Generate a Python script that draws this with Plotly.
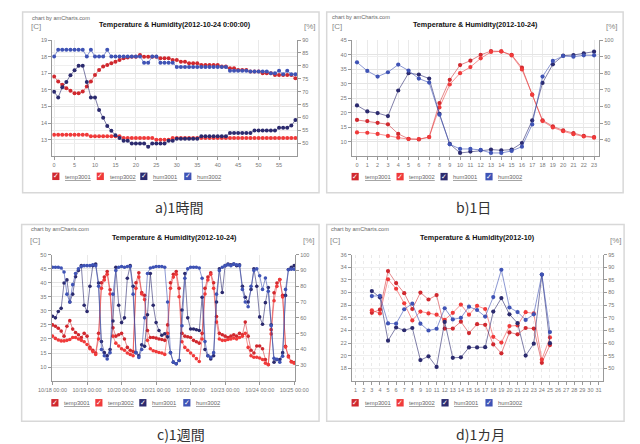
import plotly.graph_objects as go
import pandas as pd

W, H = 640, 444

SERIES = ["temp3001", "temp3002", "hum3001", "hum3002"]
COLORS = ["#d0282e", "#f03a3a", "#2b2a6e", "#3f53b5"]
LINE_COLORS = ["rgba(208,40,46,0.55)", "rgba(240,58,58,0.55)",
               "rgba(43,42,110,0.6)", "rgba(63,83,181,0.6)"]

# ---------------- a) 1 hour (2012-10-24 0:00 - 0:59) ----------------
a_minutes = list(range(60))
a_temp3001 = [16.8, 16.5, 16.3, 16.1, 15.95, 15.8, 15.8, 15.9, 16.2, 16.5,
              16.9, 17.2, 17.4, 17.5, 17.6, 17.7, 17.8, 17.9, 17.95, 18.0,
              18.0, 18.1, 18.0, 18.0, 18.0, 18.0, 17.9, 17.9, 17.9, 17.8,
              17.8, 17.7, 17.7, 17.6, 17.6, 17.6, 17.5, 17.5, 17.5, 17.5,
              17.5, 17.4, 17.4, 17.3, 17.3, 17.2, 17.2, 17.2, 17.1, 17.1,
              17.1, 17.0, 17.0, 17.0, 16.9, 16.9, 16.9, 16.9, 16.9, 16.7]
a_temp3002 = [13.3, 13.3, 13.3, 13.3, 13.3, 13.3, 13.3, 13.3, 13.3, 13.2,
              13.2, 13.2, 13.2, 13.2, 13.2, 13.2, 13.2, 13.1, 13.1, 13.1,
              13.1, 13.1, 13.1, 13.1, 13.1, 13.0, 13.0, 13.0, 13.0, 13.1,
              13.1, 13.1, 13.1, 13.1, 13.1, 13.1, 13.1, 13.1, 13.1, 13.1,
              13.1, 13.1, 13.1, 13.1, 13.1, 13.1, 13.1, 13.1, 13.1, 13.1,
              13.1, 13.1, 13.1, 13.1, 13.1, 13.1, 13.1, 13.1, 13.1, 13.1]
a_hum3001 = [70.0, 67.8, 71.7, 73.8, 76.4, 78.3, 80.0, 80.0, 73.8, 67.8,
             67.8, 62.9, 59.9, 56.7, 54.9, 53.1, 52.1, 51.0, 51.0, 49.9,
             49.9, 49.9, 49.9, 48.7, 49.9, 49.9, 49.9, 49.9, 51.0, 51.0,
             51.8, 51.8, 51.8, 51.8, 51.8, 51.8, 52.7, 52.7, 52.7, 52.7,
             52.7, 52.7, 52.7, 54.0, 54.0, 54.0, 54.0, 54.0, 54.0, 55.0,
             55.0, 55.0, 55.0, 55.0, 55.0, 56.0, 56.0, 56.0, 56.9, 59.0]
a_hum3002 = [83.6, 86.2, 86.2, 86.2, 86.2, 86.2, 86.2, 86.2, 83.6, 86.2,
             83.6, 83.6, 83.6, 86.2, 83.6, 83.6, 83.6, 83.6, 83.6, 83.6,
             83.6, 83.6, 81.2, 81.2, 83.6, 83.6, 81.2, 81.2, 81.2, 81.2,
             79.6, 79.6, 79.6, 79.6, 79.6, 79.6, 79.6, 79.6, 79.6, 79.6,
             79.6, 79.6, 79.6, 78.1, 78.1, 78.1, 78.1, 78.1, 77.8, 77.8,
             77.8, 77.8, 77.8, 77.1, 77.1, 78.1, 76.8, 78.1, 76.8, 76.8]
a_xticks = [0, 5, 10, 15, 20, 25, 30, 35, 40, 45, 50, 55]
a_left_ticks = [13, 14, 15, 16, 17, 18, 19]
a_right_ticks = [50, 55, 60, 65, 70, 75, 80, 85, 90]

# ---------------- b) 1 day (2012-10-24, hourly) ----------------
b_hours = list(range(24))
b_temp3001 = [17.5, 17.1, 16.5, 16.0, 12.7, 11.0, 10.8, 11.6, 23.3, 31.3, 36.4, 37.9,
              39.9, 41.2, 41.1, 39.9, 35.5, 26.2, 17.4, 15.3, 13.9, 13.0, 12.0, 11.6]
b_temp3002 = [13.2, 13.1, 12.7, 12.0, 11.4, 10.9, 10.9, 11.6, 21.8, 29.7, 33.6, 35.7,
              38.7, 40.9, 41.1, 39.7, 34.9, 26.2, 17.1, 14.9, 13.6, 12.6, 11.8, 11.4]
b_hum3001 = [60.6, 57.0, 56.0, 54.2, 69.6, 80.0, 79.2, 76.8, 55.6, 37.4, 32.0, 32.8,
             33.6, 34.0, 33.6, 34.0, 38.0, 51.6, 74.2, 85.4, 90.6, 91.0, 92.0, 93.0]
b_hum3002 = [86.6, 81.4, 78.0, 80.6, 85.2, 81.6, 76.8, 74.4, 55.0, 37.2, 34.4, 34.4,
             33.8, 32.0, 32.0, 33.2, 35.8, 49.2, 78.0, 87.4, 90.4, 90.0, 90.8, 90.8]
b_xticks = list(range(24))
b_left_ticks = [10, 15, 20, 25, 30, 35, 40, 45]
b_right_ticks = [40, 50, 60, 70, 80, 90, 100]

# ---------------- c) 1 week (2012-10-18 .. 10-25, every 2 h) ----------------
c_times = pd.date_range("2012-10-18 00:00", periods=85, freq="2h")
c_temp3001 = [25.0, 24.5, 23.8, 22.8, 21.0, 24.5, 26.5, 23.5, 22.3, 21.5,
              20.5, 22.0, 21.0, 17.0, 16.0, 15.0, 22.0, 40.0, 42.0, 44.0,
              37.5, 24.0, 21.0, 21.5, 22.0, 20.0, 17.0, 16.0, 15.5, 40.0,
              43.5, 36.5, 35.5, 23.0, 20.5, 20.5, 20.3, 20.0, 19.8, 19.5,
              25.0, 40.0, 43.0, 44.0, 38.0, 22.0, 21.0, 20.8, 20.5, 19.5,
              19.0, 18.5, 22.0, 38.0, 42.0, 43.5, 40.0, 28.0, 22.0, 21.5,
              21.0, 20.5, 21.0, 21.5, 21.0, 22.0, 21.5, 26.0, 21.0, 16.0,
              15.0, 17.5, 17.5, 16.5, 12.7, 10.8, 23.3, 36.4, 39.9, 41.1,
              35.5, 17.4, 13.9, 12.0, 11.6]
c_temp3002 = [21.0, 20.2, 19.6, 19.3, 19.3, 19.5, 19.8, 20.5, 20.5, 20.0,
              19.5, 19.0, 18.0, 16.5, 15.5, 14.5, 20.0, 38.0, 41.0, 43.0,
              36.0, 21.0, 18.5, 17.5, 16.5, 16.0, 15.0, 14.5, 14.0, 38.0,
              42.0, 36.0, 34.0, 19.5, 16.5, 15.8, 15.5, 15.2, 15.0, 14.5,
              22.0, 38.0, 42.0, 43.0, 35.0, 19.0, 17.0, 16.0, 15.0, 14.0,
              13.0, 12.0, 20.0, 36.0, 41.0, 43.0, 38.0, 26.0, 20.0, 19.5,
              19.5, 19.8, 20.0, 20.3, 20.0, 20.5, 21.0, 22.0, 17.0, 14.0,
              13.5, 13.5, 13.2, 12.7, 11.4, 10.9, 21.8, 33.6, 38.7, 41.1,
              34.9, 17.1, 13.6, 11.8, 11.4]
c_hum3001 = [61.0, 60.0, 64.0, 66.0, 82.0, 84.0, 70.0, 75.0, 86.0, 90.0,
             93.0, 68.0, 64.0, 80.0, 93.0, 94.0, 82.0, 45.0, 38.0, 36.0,
             40.0, 58.0, 92.0, 68.0, 57.0, 60.0, 85.0, 93.0, 80.0, 38.0,
             36.0, 43.0, 42.0, 62.0, 88.0, 68.0, 57.0, 52.0, 49.0, 50.0,
             48.0, 38.0, 32.0, 31.0, 33.0, 65.0, 88.0, 60.0, 53.0, 53.0,
             52.5, 52.0, 73.0, 40.0, 36.0, 34.0, 36.0, 70.0, 91.0, 76.0,
             93.0, 94.0, 93.5, 94.0, 93.0, 93.5, 80.0, 73.0, 70.0, 78.0,
             91.0, 80.0, 60.6, 56.0, 69.6, 79.2, 55.6, 32.0, 33.6, 33.6,
             38.0, 74.2, 90.6, 92.0, 93.0]
c_hum3002 = [92.0, 92.0, 92.0, 91.5, 89.0, 75.0, 70.0, 81.0, 88.0, 91.0,
             92.5, 93.0, 93.0, 93.0, 93.5, 93.0, 80.0, 40.0, 36.0, 34.0,
             38.0, 75.0, 90.0, 92.0, 92.5, 92.0, 92.5, 92.5, 75.0, 38.0,
             35.0, 40.0, 60.0, 88.0, 91.5, 92.0, 92.5, 92.5, 92.5, 92.0,
             70.0, 38.0, 32.0, 31.0, 33.0, 55.0, 85.0, 91.0, 92.0, 92.0,
             92.0, 91.5, 85.0, 45.0, 36.0, 35.0, 38.0, 75.0, 90.0, 92.0,
             93.0, 93.5, 93.0, 94.0, 93.5, 93.0, 78.0, 70.0, 67.0, 80.0,
             90.0, 91.0, 86.6, 78.0, 85.2, 76.8, 55.0, 34.4, 33.8, 32.0,
             35.8, 78.0, 90.4, 90.8, 90.8]
c_left_ticks = [10, 15, 20, 25, 30, 35, 40, 45, 50]
c_right_ticks = [30, 40, 50, 60, 70, 80, 90, 100]

# ---------------- d) 1 month (2012-10, daily) ----------------
d_days = list(range(3, 26))
d_temp3001 = [26.8, 27.3, 33.4, 31.5, 29.9, 27.4, 30.0, 28.9, 29.6, 24.3, 24.3, 25.4,
              23.6, 25.0, 24.9, 21.8, 20.4, 23.7, 23.4, 24.4, 24.3, 18.9, 21.7]
d_temp3002 = [27.2, 26.7, 32.1, 30.6, 28.3, 25.6, 27.0, 26.7, 26.5, 25.7, 26.8, 28.1,
              26.5, 27.9, 27.4, 23.0, 22.1, 24.7, 24.8, 26.9, 26.7, 19.4, 22.9]
d_hum3001 = [80.6, 78.1, 61.0, 66.2, 65.1, 66.0, 53.3, 54.8, 50.6, 68.4, 54.2, 54.4,
             58.3, 58.3, 58.4, 72.5, 77.8, 71.4, 67.9, 55.1, 59.8, 87.1, 60.0]
d_hum3002 = [78.6, 78.7, 67.8, 67.7, 73.4, 75.6, 67.7, 65.0, 65.7, 73.8, 69.4, 70.0,
             74.4, 73.1, 70.5, 78.2, 89.0, 74.1, 72.3, 69.2, 71.4, 87.1, 64.4]
d_xticks = list(range(1, 32))
d_left_ticks = [18, 20, 22, 24, 26, 28, 30, 32, 34, 36]
d_right_ticks = [50, 55, 60, 65, 70, 75, 80, 85, 90, 95]

TITLES = ["Temperature & Humidity(2012-10-24 0:00:00)",
          "Temperature & Humidity(2012-10-24)",
          "Temperature & Humidity(2012-10-24)",
          "Temperature & Humidity(2012-10)"]
CAPTIONS = ["a)1時間", "b)1日", "c)1週間", "d)1カ月"]


def fx(px):
    return px / W


def fy(py):
    return 1 - py / H


FONT = "Liberation Sans, Arial, sans-serif"
tick_font = dict(family=FONT, size=5.5, color="#777")

panels = [
    dict(x=a_minutes, ys=[a_temp3001, a_temp3002, a_hum3001, a_hum3002],
         xa="x", yl="y", yr="y2", xdom=(40, 296), ydom=(37.3, 154.3),
         xrange=[-0.45, 59.4], lrange=[12, 19], rrange=[45, 90],
         xticks=a_xticks, lt=a_left_ticks, rt=a_right_ticks, grid="solid"),
    dict(x=b_hours, ys=[b_temp3001, b_temp3002, b_hum3001, b_hum3002],
         xa="x2", yl="y3", yr="y4", xdom=(353.3, 612), ydom=(37.3, 154.3),
         xrange=[-0.5, 23.5], lrange=[5, 45], rrange=[30, 100],
         xticks=b_xticks, lt=b_left_ticks, rt=b_right_ticks, grid="solid"),
    dict(x=c_times, ys=[c_temp3001, c_temp3002, c_hum3001, c_hum3002],
         xa="x3", yl="y5", yr="y6", xdom=(39.3, 294), ydom=(253.3, 380.7),
         xrange=["2012-10-17 23:20", "2012-10-25 00:40"], lrange=[5, 50], rrange=[20, 100],
         xticks=None, lt=c_left_ticks, rt=c_right_ticks, grid="solid"),
    dict(x=d_days, ys=[d_temp3001, d_temp3002, d_hum3001, d_hum3002],
         xa="x4", yl="y7", yr="y8", xdom=(353.3, 616), ydom=(253.3, 380.7),
         xrange=[0.53, 31.56], lrange=[16, 36], rrange=[45, 95],
         xticks=d_xticks, lt=d_left_ticks, rt=d_right_ticks, grid="dot"),
]

fig = go.Figure()
msize = [4, 4.2, 3.6, 4.2]
for pi, p in enumerate(panels):
    for k in range(4):
        fig.add_trace(go.Scatter(
            x=p["x"], y=p["ys"][k], xaxis=p["xa"],
            yaxis=p["yl"] if k < 2 else p["yr"],
            mode="lines+markers", name=SERIES[k],
            line=dict(color=LINE_COLORS[k], width=1),
            marker=dict(color=COLORS[k], size=msize[pi]),
            showlegend=False, hoverinfo="skip"))

layout = dict(width=W, height=H, margin=dict(l=0, r=0, t=0, b=0),
              paper_bgcolor="white", plot_bgcolor="white", showlegend=False)

for pi, p in enumerate(panels):
    xn = p["xa"].replace("x", "xaxis")
    yln = p["yl"].replace("y", "yaxis")
    yrn = p["yr"].replace("y", "yaxis")
    xdom = [fx(p["xdom"][0]), fx(p["xdom"][1])]
    ydom = [fy(p["ydom"][1]), fy(p["ydom"][0])]
    xa = dict(domain=xdom, anchor=p["yl"], range=p["xrange"], showline=True,
              linecolor="#999", linewidth=1, ticks="outside", ticklen=3,
              tickcolor="#999", tickfont=tick_font, showgrid=True,
              gridcolor="#e9e9e9", gridwidth=1, zeroline=False, fixedrange=True,
              griddash=p["grid"], tickangle=0)
    if p["xticks"] is not None:
        xa.update(tickmode="array", tickvals=p["xticks"])
    else:
        xa.update(type="date", dtick=86400000, tick0="2012-10-18",
                  tickformat="%m/%d %H:%M")
    layout[xn] = xa
    layout[yln] = dict(domain=ydom, anchor=p["xa"], range=p["lrange"],
                       tickmode="array", tickvals=p["lt"], showline=True,
                       linecolor="#999", linewidth=1, ticks="outside", ticklen=3,
                       tickcolor="#999", tickfont=tick_font, showgrid=True,
                       gridcolor="#e4e4e4", zeroline=False, fixedrange=True)
    layout[yrn] = dict(overlaying=p["yl"], side="right", anchor=p["xa"],
                       range=p["rrange"], tickmode="array", tickvals=p["rt"],
                       showline=True, linecolor="#999", linewidth=1,
                       ticks="outside", ticklen=3, tickcolor="#999",
                       tickfont=tick_font, showgrid=True, gridcolor="#efefef",
                       zeroline=False, fixedrange=True)

fig.update_layout(**layout)

# frames around each chart
boxes = [(9, 9, 319, 191), (327, 9, 637, 191), (8, 223, 319, 421), (327, 223, 638, 421)]
shapes = []
for (x0, y0, x1, y1) in boxes:
    shapes.append(dict(type="rect", xref="paper", yref="paper",
                       x0=fx(x0), x1=fx(x1), y0=fy(y1), y1=fy(y0),
                       line=dict(color="#d8d8d8", width=1.5), fillcolor="rgba(0,0,0,0)",
                       layer="below"))

annotations = []


def text(x, y, s, size, color="#555", family=FONT, xanchor="left", bold=False):
    annotations.append(dict(x=fx(x), y=fy(y), xref="paper", yref="paper",
                            text=("<b>%s</b>" % s) if bold else s, showarrow=False,
                            xanchor=xanchor, yanchor="middle",
                            font=dict(family=family, size=size, color=color)))


credit_pos = [(17, 15), (330, 14), (16, 228), (329, 228)]
title_pos = [(168.5, 22), (483, 22), (167.5, 236), (484.5, 236)]
c_pos = [(16, 24), (330, 24), (15, 239), (328, 239)]
pct_pos = [(318, 24), (634, 24), (317, 239), (638, 239)]
caption_pos = [(173, 205), (481, 205), (175, 434), (488, 434)]
legend_x = [[40, 86.5, 132, 178], [353, 400, 446, 493], [39, 85, 131, 177], [353, 400, 447, 493]]
legend_y = [174.5, 174.8, 402.5, 402.5]

for pi in range(4):
    text(*credit_pos[pi], "chart by amCharts.com", 5.6, "#666")
    text(*title_pos[pi], TITLES[pi], 7.2, "#111", xanchor="center", bold=True)
    text(*c_pos[pi], "[C]", 8, "#888")
    text(*pct_pos[pi], "[%]", 8, "#888", xanchor="right")
    text(*caption_pos[pi], CAPTIONS[pi], 14, "#333",
         family="Noto Sans CJK JP, sans-serif", xanchor="center")
    for k in range(4):
        bx = legend_x[pi][k]
        by = legend_y[pi]
        shapes.append(dict(type="rect", xref="paper", yref="paper",
                           x0=fx(bx), x1=fx(bx + 7.5), y0=fy(by + 3.75), y1=fy(by - 3.75),
                           line=dict(width=0), fillcolor=COLORS[k]))
        annotations.append(dict(x=fx(bx + 3.9), y=fy(by), xref="paper", yref="paper",
                                text="✓", showarrow=False, xanchor="center",
                                yanchor="middle",
                                font=dict(family="DejaVu Sans", size=7, color="white")))
        text(bx + 11.5, by + 0.3, "<u>%s</u>" % SERIES[k], 5.8, "#666")

fig.update_layout(shapes=shapes, annotations=annotations)
fig.write_html("out.html")
